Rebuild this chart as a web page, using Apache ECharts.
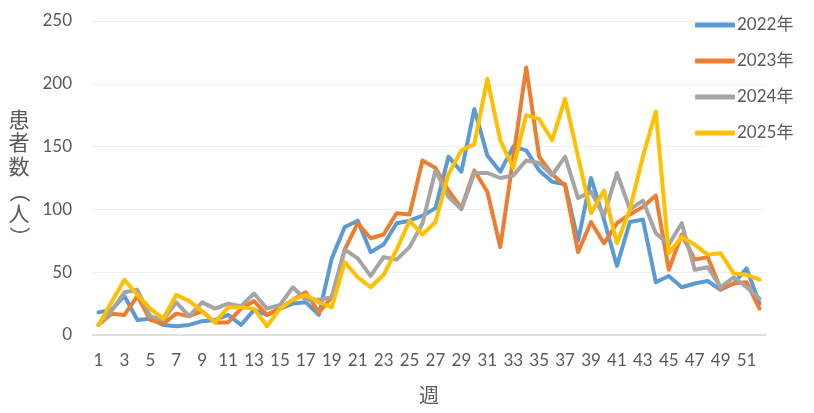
<!DOCTYPE html>
<html>
<head>
<meta charset="utf-8">
<script src="https://cdn.jsdelivr.net/npm/echarts@6/dist/echarts.min.js"></script>
<style>
html,body{margin:0;padding:0;background:#fff;}
#c{width:814px;height:413px;}
</style>
</head>
<body>
<div id="c"></div>
<script>
const weeks = Array.from({length: 52}, (_, i) => String(i + 1));
const seriesNames = ['2022年', '2023年', '2024年', '2025年'];
const y2022 = [18,20,31,12,13,8,7,8,11,12,16,8,20,16,21,25,26,16,61,86,91,66,72,89,91,95,101,142,130,180,143,130,150,147,131,122,120,75,125,92,55,90,92,42,47,38,41,43,36,41,53,25];
const y2023 = [8,17,16,31,12,9,17,15,19,10,10,21,27,16,21,28,34,18,30,68,89,77,80,97,96,139,133,115,101,131,114,70,141,213,142,128,119,66,90,73,89,96,102,111,52,80,60,62,37,41,42,21];
const y2024 = [8,19,34,36,15,12,26,15,26,21,25,23,33,21,24,38,28,28,30,68,61,47,62,60,70,89,131,110,100,129,129,125,127,139,137,127,142,109,114,95,129,100,107,81,72,89,52,54,38,46,38,29];
const y2025 = [8,26,44,32,21,13,32,27,19,10,22,22,21,7,21,28,32,26,22,58,46,38,48,68,91,80,90,128,147,152,204,155,133,175,172,155,188,142,97,115,73,100,142,178,65,78,72,64,65,49,48,44];
const yTicks = [0, 50, 100, 150, 200, 250];
const colors = ['#5B9BD5', '#ED7D31', '#A5A5A5', '#FFC000'];
const yTitleChars = ['患', '者', '数', '（', '人', '）'];

const chart = echarts.init(document.getElementById('c'), null, {renderer: 'canvas'});
const fontFam = 'Lato, "Noto Sans CJK JP", sans-serif';
const textColor = '#595959';
const dataSets = [y2022, y2023, y2024, y2025];

const titleY = [120, 143, 167, 192, 214, 237];
const titleGraphics = yTitleChars.map((ch, i) => {
  const isParen = (ch === '（' || ch === '）');
  return {
    type: 'text',
    x: 19,
    y: titleY[i],
    rotation: isParen ? -Math.PI / 2 : 0,
    style: {
      text: ch,
      fill: textColor,
      font: '21px ' + fontFam,
      textAlign: 'center',
      textVerticalAlign: 'middle'
    }
  };
});

chart.setOption({
  animation: false,
  color: colors,
  textStyle: {fontFamily: fontFam},
  grid: {left: 92, right: 48, top: 21, bottom: 78, containLabel: false},
  legend: {
    data: seriesNames,
    orient: 'vertical',
    left: 690,
    top: 10,
    icon: 'roundRect',
    itemWidth: 40,
    itemHeight: 5,
    itemGap: 16,
    textStyle: {color: textColor, fontSize: 17, fontFamily: fontFam, lineHeight: 20, padding: [0, 0, 0, -3]}
  },
  xAxis: {
    type: 'category',
    data: weeks,
    boundaryGap: true,
    name: '週',
    nameLocation: 'middle',
    nameGap: 52,
    nameTextStyle: {color: textColor, fontSize: 20, fontFamily: fontFam},
    axisLine: {show: true, lineStyle: {color: '#D9D9D9', width: 1.5}},
    axisTick: {show: false},
    axisLabel: {interval: 1, color: textColor, fontSize: 17, fontFamily: fontFam, margin: 17},
    splitLine: {show: false}
  },
  yAxis: {
    type: 'value',
    min: yTicks[0],
    max: yTicks[yTicks.length - 1],
    interval: 50,
    axisLine: {show: false},
    axisTick: {show: false},
    axisLabel: {color: textColor, fontSize: 17, fontFamily: fontFam, margin: 20},
    splitLine: {show: true, lineStyle: {color: '#EFEFEF', width: 1}}
  },
  graphic: titleGraphics,
  series: seriesNames.map((n, i) => ({
    name: n,
    type: 'line',
    data: dataSets[i],
    symbol: 'none',
    showSymbol: false,
    smooth: false,
    lineStyle: {width: 4, color: colors[i], cap: 'round', join: 'round'},
    itemStyle: {color: colors[i]},
    z: 2 + i
  }))
});
</script>
</body>
</html>
